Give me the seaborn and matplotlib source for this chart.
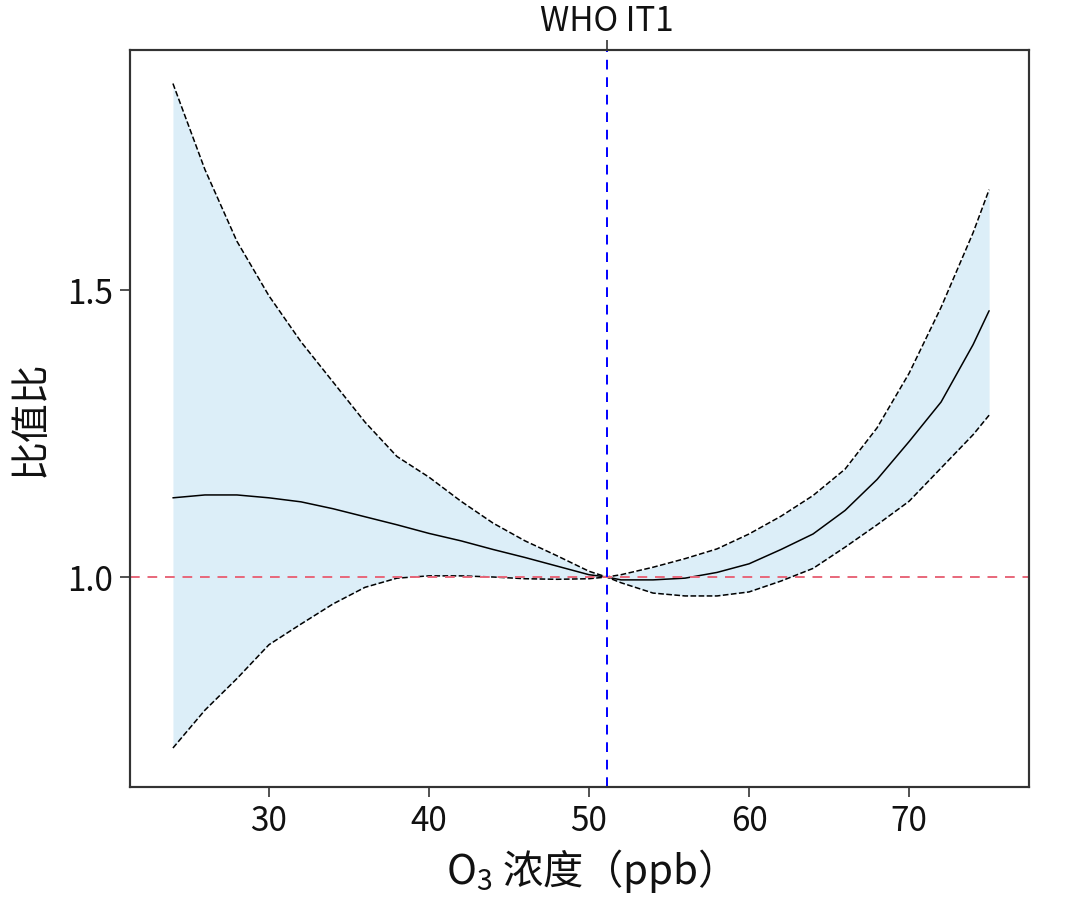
import matplotlib
matplotlib.use("Agg")
import matplotlib.pyplot as plt
import seaborn as sns
import pandas as pd

# O3 concentration (ppb) and odds ratio with 95% CI
o3 = [24, 26, 28, 30, 32, 34, 36, 38, 40, 42, 44, 46, 48, 50, 51.1,
      52, 54, 56, 58, 60, 62, 64, 66, 68, 70, 72, 74, 75]
or_mid = [1.138, 1.143, 1.143, 1.138, 1.131, 1.119, 1.105, 1.091, 1.076, 1.063,
          1.048, 1.034, 1.019, 1.004, 1.0, 0.995, 0.995, 0.998, 1.008, 1.023,
          1.048, 1.075, 1.116, 1.170, 1.236, 1.305, 1.405, 1.464]
or_upper = [1.860, 1.710, 1.585, 1.490, 1.410, 1.340, 1.270, 1.210, 1.174, 1.132,
            1.094, 1.063, 1.037, 1.010, 1.0, 1.004, 1.017, 1.032, 1.049, 1.075,
            1.106, 1.142, 1.188, 1.260, 1.355, 1.470, 1.600, 1.675]
or_lower = [0.702, 0.768, 0.823, 0.882, 0.918, 0.953, 0.982, 0.998, 1.002, 1.002,
            1.000, 0.997, 0.996, 0.997, 1.0, 0.990, 0.972, 0.967, 0.967, 0.974,
            0.993, 1.015, 1.052, 1.091, 1.132, 1.190, 1.248, 1.282]
who_it1 = 51.1
who_label = "WHO IT1"

df = pd.DataFrame({"o3": o3, "mid": or_mid, "upper": or_upper, "lower": or_lower})

sns.set_theme(style="white")
plt.rcParams['font.family'] = ['Noto Sans CJK SC', 'DejaVu Sans']
plt.rcParams['mathtext.fontset'] = 'custom'
plt.rcParams['mathtext.rm'] = 'Noto Sans CJK SC'
plt.rcParams['mathtext.default'] = 'rm'

fig = plt.figure(figsize=(10.81, 8.97), dpi=100)
ax = fig.add_axes([0.120, 0.1226, 0.832, 0.8214])

ax.fill_between(df["o3"], df["lower"], df["upper"], color="#DCEEF8", linewidth=0)
sns.lineplot(data=df, x="o3", y="upper", color="black", linestyle="--", linewidth=1.1, ax=ax)
sns.lineplot(data=df, x="o3", y="lower", color="black", linestyle="--", linewidth=1.1, ax=ax)
sns.lineplot(data=df, x="o3", y="mid", color="black", linewidth=1.1, ax=ax)

ax.axhline(1.0, color="#E8677A", linestyle=(0, (5, 4)), linewidth=1.4)
ax.axvline(who_it1, color="blue", linestyle=(0, (5, 4)), linewidth=1.4)

ax.set_xlim(21.3, 77.5)
ax.set_ylim(0.634, 1.918)
ax.set_xticks([30, 40, 50, 60, 70])
ax.set_yticks([1.0, 1.5])
ax.set_yticklabels(["1.0", "1.5"])

ax.set_xlabel("O$_3$ 浓度（ppb）", fontsize=29, color="#111111", labelpad=6)
ax.set_ylabel("比值比", fontsize=28, color="#111111", labelpad=12)
ax.tick_params(axis="both", labelsize=24, colors="#333333", labelcolor="#111111",
               direction="out", length=7, width=1.2, bottom=True, left=True, pad=5)

for s in ax.spines.values():
    s.set_color("#333333")
    s.set_linewidth(1.5)

# secondary axis on top marking the WHO interim target
ax2 = ax.twiny()
ax2.set_xlim(ax.get_xlim())
ax2.set_xticks([who_it1])
ax2.set_xticklabels([who_label])
ax2.tick_params(axis="x", labelsize=24, colors="#333333", labelcolor="#111111",
                direction="out", length=7, width=1.2, top=True, pad=1)
for s in ax2.spines.values():
    s.set_color("#333333")
    s.set_linewidth(1.5)

plt.savefig("out.png", dpi=100)
plt.close()
